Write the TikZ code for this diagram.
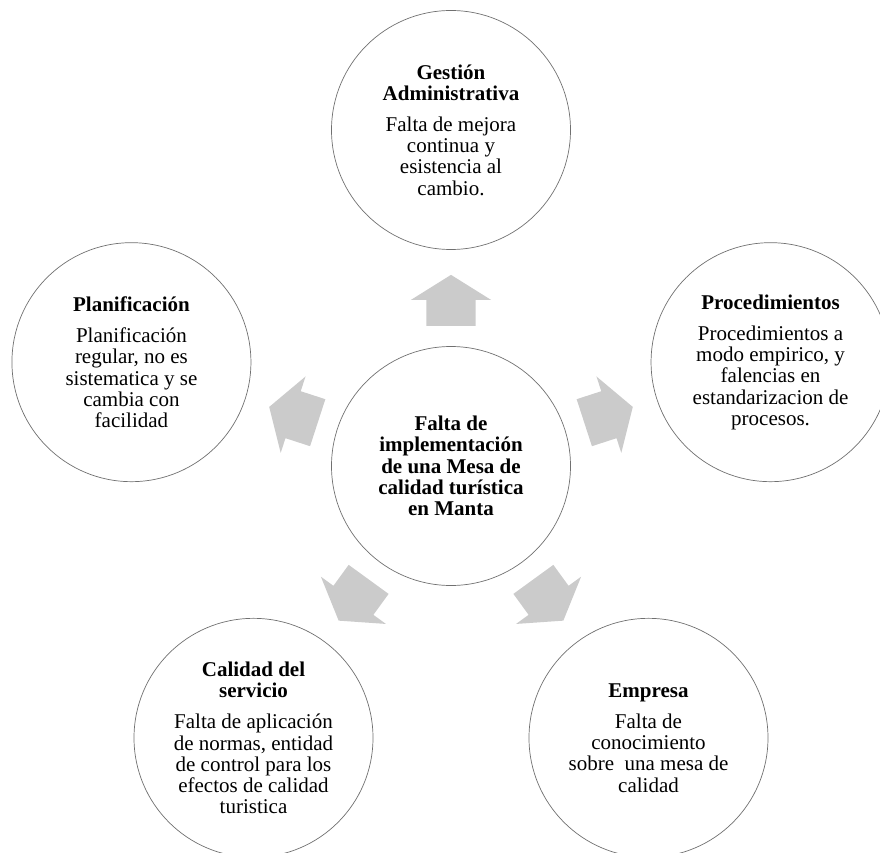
\documentclass[tikz,border=0pt]{standalone}
\usepackage{fontspec}
\setmainfont{Liberation Serif}
\usepackage{tikz}
\usetikzlibrary{arrows.meta,positioning,calc,shapes.arrows}
\definecolor{ringgray}{HTML}{707070}
\definecolor{arrowgray}{HTML}{CBCBCB}
\tikzset{
  core/.style={circle, draw=ringgray, line width=0.7pt, fill=white, minimum size=239pt, inner sep=0pt, align=center, font=\fontsize{21}{21.2}\selectfont\bfseries},
  topic/.style={circle, draw=ringgray, line width=0.7pt, fill=white, minimum size=239pt, inner sep=0pt, align=center},
  blockarrow/.style={single arrow, fill=arrowgray, draw=none, minimum height=51pt, inner xsep=0pt, inner ysep=24.5pt, single arrow head extend=15.5pt, single arrow tip angle=116}
}

\begin{document}
\begin{tikzpicture}[font=\fontsize{21}{21.2}\selectfont]
  \useasboundingbox (-451pt,-386pt) rectangle (429pt,466pt);
  \node[core] (mesa) at (0,0) {Falta de\\implementación\\de una Mesa de\\calidad turística\\en Manta};
  \node[topic] (gestion) at (90:336pt) {\textbf{Gestión}\\\textbf{Administrativa}\\[10pt]Falta de mejora\\continua y\\esistencia al\\cambio.};
  \node[topic] (planif) at (162:336pt) {\textbf{Planificación}\\[10pt]Planificación\\regular, no es\\sistematica y se\\cambia con\\facilidad};
  \node[topic] (proced) at (18:336pt) {\textbf{Procedimientos}\\[10pt]Procedimientos a\\modo empirico, y\\falencias en\\estandarizacion de\\procesos.};
  \node[topic] (servicio) at (234:336pt) {\textbf{Calidad del}\\\textbf{servicio}\\[10pt]Falta de aplicación\\de normas, entidad\\de control para los\\efectos de calidad\\turistica};
  \node[topic] (empresa) at (306:336pt) {\textbf{Empresa}\\[10pt]Falta de\\conocimiento\\sobre\ \ una mesa de\\calidad};

  % flechas hacia cada causa
  \foreach \ang/\tgt in {90/gestion, 162/planif, 18/proced, 234/servicio, 306/empresa}
    \node[blockarrow, rotate=\ang] (to-\tgt) at ($(mesa)!0.47!(\tgt)$) {};
\end{tikzpicture}
\end{document}
